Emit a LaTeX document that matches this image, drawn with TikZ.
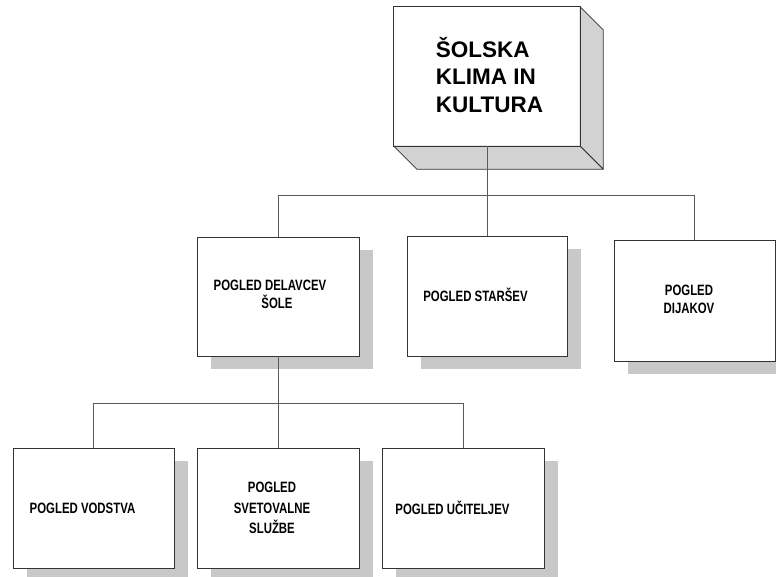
\documentclass[tikz,border=0pt]{standalone}
\usepackage{fontspec}
\setmainfont{Liberation Sans}
\newfontfamily\nar{Liberation Sans}[FakeStretch=0.76]
\usetikzlibrary{shadows,calc}
\definecolor{edgegray}{HTML}{333333}
\definecolor{linegray}{HTML}{5A5A5A}
\definecolor{shadowgray}{HTML}{C8C8C8}
\definecolor{sidegray}{HTML}{D2D2D2}
\tikzset{
  box/.style={draw=edgegray, line width=0.75pt, fill=white, rectangle,
    minimum width=161pt, minimum height=120pt, inner sep=0pt,
    general shadow={shadow xshift=14pt, shadow yshift=-13pt, fill=shadowgray, draw=none}},
  boxtext/.style={font=\nar\bfseries\fontsize{15}{18}\selectfont, align=center, inner sep=0pt},
  conn/.style={draw=linegray, line width=0.75pt},
  side/.style={fill=sidegray, draw=edgegray, line width=0.75pt, line join=round}
}
\begin{document}
\begin{tikzpicture}[x=1pt, y=-1pt]
\useasboundingbox (0,0) rectangle (776,577);
% top 3D box
\node[fill=white, minimum width=186pt, minimum height=139pt, inner sep=0pt] (top) at (487,76.5) {};
\fill[side] (top.north east) -- ++(23,23) -- ($(top.south east)+(23,23)$) -- (top.south east) -- cycle;
\fill[side] (top.south west) -- ++(23,23) -- ($(top.south east)+(23,23)$) -- (top.south east) -- cycle;
\draw[edgegray, line width=0.75pt] (top.north west) rectangle (top.south east);
\node[font=\bfseries\fontsize{22.5}{27.5}\selectfont, align=left, inner sep=0pt] (title) at (489.5,75) {ŠOLSKA\\KLIMA IN\\KULTURA};
% middle row
\node[box, minimum width=162pt, minimum height=119pt] (b1) at (278,296.5) {};
\node[box, minimum width=160pt] (b2) at (487,296) {};
\node[box, minimum height=121pt] (b3) at (694.5,300.5) {};
% bottom row
\node[box] (ba) at (93.5,508) {};
\node[box, minimum width=162pt] (bb) at (278,508) {};
\node[box, minimum width=162pt] (bc) at (463,508) {};
% texts
\node[boxtext] (t1) at (270,294) {POGLED DELAVCEV\\\hspace*{14pt}ŠOLE};
\node[boxtext] (t2) at (475.5,294.5) {POGLED STARŠEV};
\node[boxtext] (t3) at (689,299) {POGLED\\DIJAKOV};
\node[boxtext] (ta) at (82.5,508.5) {POGLED VODSTVA};
\node[boxtext, font=\nar\bfseries\fontsize{15}{20.5}\selectfont] (tb) at (272,508) {POGLED\\SVETOVALNE\\SLUŽBE};
\node[boxtext] (tc) at (452.5,507.5) {POGLED UČITELJEV};
% connectors
\coordinate (bus1) at (487,195);
\coordinate (bus2) at (278,403);
\draw[conn] (top.south) -- (bus1);
\draw[conn] (b1.north) |- (bus1);
\draw[conn] (b2.north) -- (bus1);
\draw[conn] (b3.north) |- (bus1);
\draw[conn] (b1.south) -- (bb.north);
\draw[conn] (ba.north) |- (bus2);
\draw[conn] (bc.north) |- (bus2);
\end{tikzpicture}
\end{document}
